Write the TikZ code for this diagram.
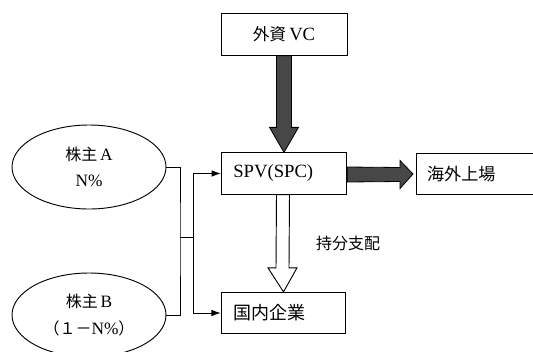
\documentclass[tikz,border=0pt]{standalone}
\usepackage{fontspec}
\setmainfont{Liberation Serif}
\newfontfamily\cjk{Noto Sans CJK JP}
\usetikzlibrary{calc,arrows.meta,shapes.geometric}

\begin{document}
\begin{tikzpicture}[x=0.75pt,y=-0.75pt]
\tikzset{every node/.style={font=\fontsize{13}{15}\selectfont}}
\tikzset{box/.style={draw,line width=0.7pt,minimum height=31pt,inner sep=0pt}}
\tikzset{leftbox/.style={box,align=left,inner xsep=9pt,text width=76pt}}
\tikzset{holder/.style={draw,line width=0.7pt,ellipse,minimum width=115.5pt,minimum height=63pt,inner sep=0pt,align=center,font=\fontsize{13}{20}\selectfont}}
\tikzset{link/.style={line width=0.7pt}}
\tikzset{fatdark/.style={draw=black,line width=0.6pt,fill=black!72}}
\tikzset{fatopen/.style={draw=black,line width=0.7pt,fill=white}}

\useasboundingbox (0,0) rectangle (533,351);
\clip (0,0) rectangle (533,351);

% boxes
\node[box,minimum width=94.5pt,font=\fontsize{14}{16}\selectfont] (vc) at (284,34.5) {{\cjk\fontsize{12.5}{16}\selectfont 外資}\,VC};
\node[leftbox,font=\fontsize{14}{16}\selectfont] (spv) at (284,173.5) {SPV(SPC)};
\node[box,anchor=west,align=left,inner xsep=8pt,text width=110pt,font=\cjk\fontsize{12.8}{15}\selectfont] (listing) at (416,174) {海外上場};
\node[leftbox,text width=75.5pt,font=\cjk\fontsize{13.5}{15}\selectfont] (dom) at (283.5,313) {国内企業};

% shareholders
\node[holder] (shA) at (89,167) {{\cjk\fontsize{12}{20}\selectfont 株主}\,A\\N\%};
\node[holder] (shB) at (89,315) {{\cjk\fontsize{12}{20}\selectfont 株主}\,B\\{\cjk\fontsize{12}{20}\selectfont （１－}N\%{\cjk\fontsize{12}{20}\selectfont ）}};

% ownership lines
\coordinate (jl) at (180,237);
\coordinate (jr) at (193,237);
\draw[link] (shA.east) -| (jl) |- (shB.east);
\draw[link] (jl) -- (jr);
\draw[link,-{Latex[length=7pt,width=5pt]}] (jr) |- (spv.west);
\draw[link,-{Latex[length=7pt,width=5pt]}] (jr) |- (dom.west);

% investment arrow
\filldraw[fatdark] ($(vc.south)+(-7.5,0)$) -- ($(spv.north)+(-7.5,-25)$) -- ($(spv.north)+(-14.5,-25)$)
  -- (spv.north) -- ($(spv.north)+(14.5,-25)$) -- ($(spv.north)+(7.5,-25)$) -- ($(vc.south)+(7.5,0)$) -- cycle;

% listing arrow
\filldraw[fatdark] ($(spv.east)+(0,-6.5)$) -- ($(listing.west)+(-16,-6.5)$) -- ($(listing.west)+(-16,-13.5)$)
  -- ($(listing.west)+(-3,0)$) -- ($(listing.west)+(-16,14.5)$) -- ($(listing.west)+(-16,7.5)$) -- ($(spv.east)+(0,8.5)$) -- cycle;

% control arrow
\filldraw[fatopen] ($(spv.south)+(-7.5,0)$) -- ($(dom.north)+(-7.5,-24)$) -- ($(dom.north)+(-15.5,-24)$)
  -- (dom.north) -- ($(dom.north)+(13.5,-24)$) -- ($(dom.north)+(5.5,-24)$) -- ($(spv.south)+(5.5,0)$) -- cycle;
\node[font=\cjk\fontsize{12}{14}\selectfont] (ctrl) at (348,243) {持分支配};

\end{tikzpicture}
\end{document}
